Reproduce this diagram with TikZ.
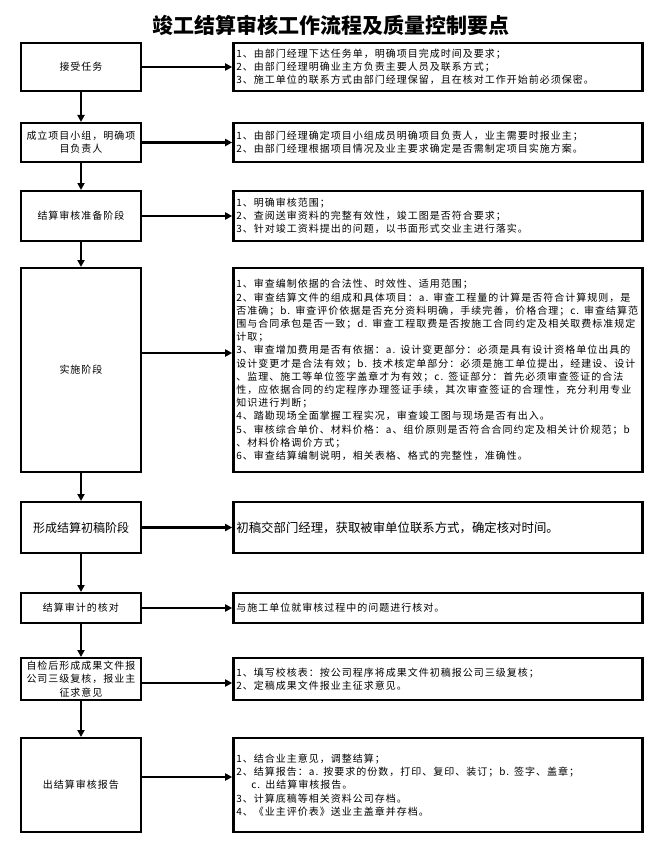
\documentclass[tikz,border=0pt]{standalone}
\usepackage{fontspec}
\setmainfont{Noto Sans CJK SC}
\newfontfamily\smallcjk[LetterSpace=10]{Noto Sans CJK SC}
\usetikzlibrary{positioning, arrows.meta}

\begin{document}
\begin{tikzpicture}[
    x=1pt, y=-1pt,
    stage/.style={rectangle, draw=black, line width=2.4pt, minimum width=120pt,
                  text width=116pt, align=center, inner sep=1pt,
                  font=\smallcjk\fontsize{10}{13.2}\selectfont},
    note/.style={rectangle, draw=black, line width=2.4pt, text width=403pt,
                 align=left, inner xsep=3pt, inner ysep=1pt,
                 font=\smallcjk\fontsize{10}{13.2}\selectfont},
    arrow/.style={line width=2.4pt, -{Triangle[length=7pt, width=7pt]}}
]
\useasboundingbox (0,0) rectangle (656,853);
\node (title) at (331,25) [font=\bfseries\fontsize{21}{21}\selectfont] {竣工结算审核工作流程及质量控制要点};

% left column
\node (accept) [stage, minimum height=47.6pt] at (81,67) {接受任务};
\node (team)   [stage, minimum height=38.6pt, below=30pt of accept] {成立项目小组，明确项\\目负责人};
\node (prep)   [stage, minimum height=49.6pt, below=27pt of team] {结算审核准备阶段};
\node (impl)   [stage, minimum height=203.6pt, below=25pt of prep] {实施阶段};
\node (draft)  [stage, minimum height=50.6pt, below=28pt of impl, font=\fontsize{12}{14}\selectfont] {形成结算初稿阶段};
\node (check)  [stage, minimum height=29.6pt, below=38pt of draft] {结算审计的核对};
\node (review) [stage, minimum height=41.6pt, below=33pt of check] {自检后形成成果文件报\\公司三级复核，报业主\\征求意见};
\node (report) [stage, minimum height=93.6pt, below=36pt of review] {出结算审核报告};

% right column
\node (accept_note) [note, minimum height=47.6pt, right=90pt of accept] {1、由部门经理下达任务单，明确项目完成时间及要求；\\2、由部门经理明确业主方负责主要人员及联系方式；\\3、施工单位的联系方式由部门经理保留，且在核对工作开始前必须保密。};
\node (team_note)   [note, minimum height=38.6pt, right=90pt of team] {1、由部门经理确定项目小组成员明确项目负责人，业主需要时报业主；\\2、由部门经理根据项目情况及业主要求确定是否需制定项目实施方案。};
\node (prep_note)   [note, minimum height=49.6pt, right=90pt of prep] {1、明确审核范围；\\2、查阅送审资料的完整有效性，竣工图是否符合要求；\\3、针对竣工资料提出的问题，以书面形式交业主进行落实。};
\node (impl_note)   [note, minimum height=203.6pt, right=90pt of impl] {1、审查编制依据的合法性、时效性、适用范围；\\2、审查结算文件的组成和具体项目：a. 审查工程量的计算是否符合计算规则，是\\否准确；b. 审查评价依据是否充分资料明确，手续完善，价格合理；c. 审查结算范\\围与合同承包是否一致；d. 审查工程取费是否按施工合同约定及相关取费标准规定\\计取；\\3、审查增加费用是否有依据：a. 设计变更部分：必须是具有设计资格单位出具的\\设计变更才是合法有效；b. 技术核定单部分：必须是施工单位提出，经建设、设计\\、监理、施工等单位签字盖章才为有效；c. 签证部分：首先必须审查签证的合法\\性，应依据合同的约定程序办理签证手续，其次审查签证的合理性，充分利用专业\\知识进行判断；\\4、踏勘现场全面掌握工程实况，审查竣工图与现场是否有出入。\\5、审核综合单价、材料价格：a、组价原则是否符合合同约定及相关计价规范；b\\、材料价格调价方式；\\6、审查结算编制说明，相关表格、格式的完整性，准确性。};
\node (draft_note)  [note, minimum height=50.6pt, right=90pt of draft, font=\fontsize{12.4}{15}\selectfont] {初稿交部门经理，获取被审单位联系方式，确定核对时间。};
\node (check_note)  [note, minimum height=29.6pt, right=90pt of check] {与施工单位就审核过程中的问题进行核对。};
\node (review_note) [note, minimum height=41.6pt, right=90pt of review] {1、填写校核表：按公司程序将成果文件初稿报公司三级复核；\\2、定稿成果文件报业主征求意见。};
\node (report_note) [note, minimum height=93.6pt, right=90pt of report] {1、结合业主意见，调整结算；\\2、结算报告：a. 按要求的份数，打印、复印、装订；b. 签字、盖章；\\\hspace*{1.5em}c. 出结算审核报告。\\3、计算底稿等相关资料公司存档。\\4、《业主评价表》送业主盖章并存档。\\[6pt]};

% connectors
\draw [arrow] (accept) -- (team);
\draw [arrow] (team)   -- (prep);
\draw [arrow] (prep)   -- (impl);
\draw [arrow] (impl)   -- (draft);
\draw [arrow] (draft)  -- (check);
\draw [arrow] (check)  -- (review);
\draw [arrow] (review) -- (report);

\draw [arrow] (accept) -- (accept_note);
\draw [arrow] (team)   -- (team_note);
\draw [arrow] (prep)   -- (prep_note);
\draw [arrow] ([yshift=17pt]impl.east) -- ([yshift=17pt]impl_note.west);
\draw [arrow] (draft)  -- (draft_note);
\draw [arrow] (check)  -- (check_note);
\draw [arrow] ([yshift=-4pt]review.east) -- ([yshift=-4pt]review_note.west);
\draw [arrow] ([yshift=8pt]report.east) -- ([yshift=8pt]report_note.west);
\end{tikzpicture}
\end{document}
